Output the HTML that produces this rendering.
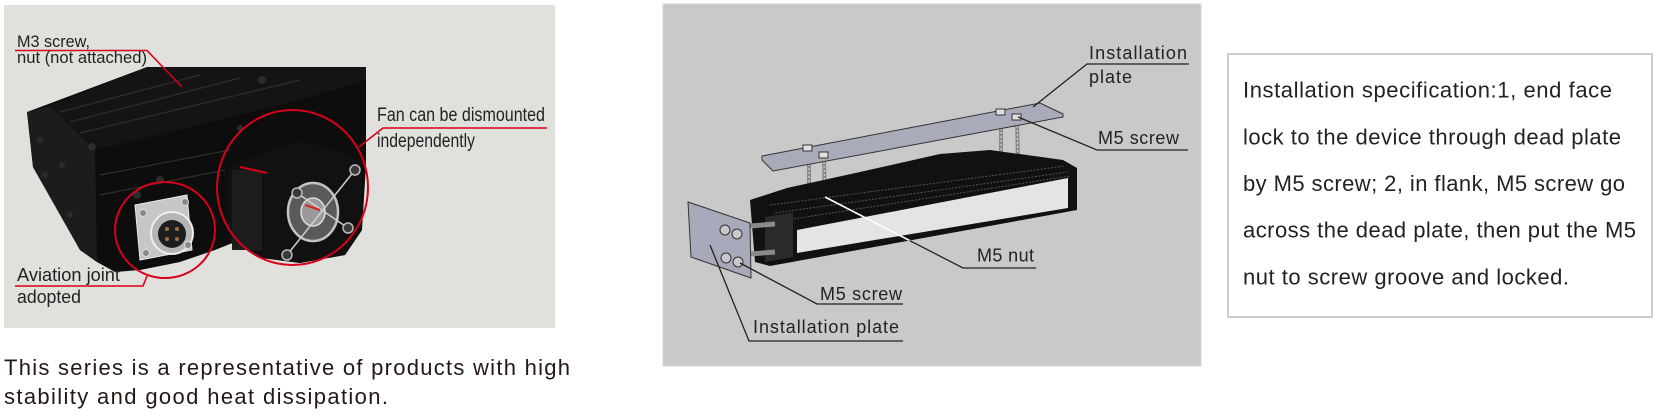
<!DOCTYPE html>
<html><head><meta charset="utf-8"><style>
html,body{margin:0;padding:0;background:#fff;}
svg{display:block;}
text{font-family:"Liberation Sans",Arial,sans-serif;}
</style></head><body>
<svg width="1656" height="419" viewBox="0 0 1656 419" xmlns="http://www.w3.org/2000/svg">
<defs>
<clipPath id="devclip"><polygon points="750,200 787,188 860,172 940,154 990,150 1063,160 1077,168 1077,210 770,266 755,262"/></clipPath>
</defs>
<rect width="1656" height="419" fill="#fff"/>

<!-- LEFT PANEL -->
<rect x="4" y="5" width="551" height="323" fill="#e0e0dc"/>
<!-- device body -->
<polygon points="27,112 147,67 366,67 366,165 362,230 345,255 300,263 262,258 240,240 215,250 180,262 140,270 115,272 97,262 80,250 33,167" fill="#0d0d0d"/>
<!-- end face shading -->
<polygon points="27,112 50,106 95,150 97,262 80,250 33,167" fill="#1c1c1c"/>
<polygon points="50,106 95,150 300,100 366,80 366,67 147,67" fill="#141414"/>
<g stroke="#2e2e2e" stroke-width="1.2">
<line x1="60" y1="112" x2="200" y2="75"/><line x1="70" y1="122" x2="240" y2="78"/><line x1="80" y1="133" x2="300" y2="80"/>
<line x1="100" y1="175" x2="230" y2="150"/><line x1="100" y1="195" x2="225" y2="170"/>
</g>
<g fill="#2c2c2c">
<circle cx="92" cy="147" r="4"/><circle cx="160" cy="180" r="4"/><circle cx="137" cy="195" r="4"/><circle cx="262" cy="80" r="4"/><circle cx="240" cy="128" r="3"/>
<circle cx="40" cy="140" r="3"/><circle cx="45" cy="175" r="3"/><circle cx="62" cy="165" r="3"/><circle cx="70" cy="215" r="3"/>
</g>
<!-- connector -->
<polygon points="135,205 187,195 192,250 140,260" fill="#c6c6c6" stroke="#e8e8e8" stroke-width="1"/>
<circle cx="172" cy="233" r="21" fill="#b5b5b5" stroke="#efefef" stroke-width="2"/>
<circle cx="172" cy="234" r="14" fill="#1e1e1e"/>
<g fill="#a07040"><circle cx="167" cy="229" r="2"/><circle cx="177" cy="229" r="2"/><circle cx="167" cy="239" r="2"/><circle cx="177" cy="239" r="2"/></g>
<g fill="#888" stroke="#ddd"><circle cx="143" cy="213" r="3.5"/><circle cx="185" cy="202" r="3.5"/><circle cx="146" cy="253" r="3.5"/><circle cx="188" cy="245" r="3.5"/></g>
<!-- fan -->
<polygon points="228,165 300,140 362,160 362,230 345,255 300,263 262,258 228,240" fill="#111"/>
<rect x="232" y="170" width="30" height="80" fill="#1d1d1d"/>
<ellipse cx="313" cy="212" rx="25" ry="29" fill="#5a5a5a" stroke="#c4c4c4" stroke-width="2.5"/>
<ellipse cx="313" cy="212" rx="12" ry="14" fill="#9a9a9a" stroke="#ddd" stroke-width="1.5"/>
<g stroke="#cfcfcf" stroke-width="1.5"><line x1="297" y1="193" x2="348" y2="228"/><line x1="355" y1="170" x2="287" y2="255"/></g>
<path d="M305 205 L320 210" stroke="#d22" stroke-width="2"/>
<g fill="#3a3a3a" stroke="#bbb" stroke-width="1.5"><circle cx="355" cy="170" r="5"/><circle cx="297" cy="193" r="5"/><circle cx="348" cy="228" r="5"/><circle cx="287" cy="255" r="5"/></g>
<path d="M240 167 L267 173" stroke="#d8001a" stroke-width="2"/>
<!-- red circles -->
<ellipse cx="165" cy="230" rx="50" ry="48" fill="none" stroke="#d8001a" stroke-width="2"/>
<ellipse cx="292.5" cy="187.5" rx="75.5" ry="77.5" fill="none" stroke="#d8001a" stroke-width="2"/>
<!-- red leaders -->
<g fill="none" stroke="#d8001a" stroke-width="1.6">
<polyline points="15,50.5 147,50.5 182,87"/>
<polyline points="547,128 383,128 359,147"/>
<polyline points="15,286 143,286 147,276"/>
</g>
<g fill="#222">
<text x="17" y="47" font-size="17" textLength="73" lengthAdjust="spacingAndGlyphs">M3 screw,</text>
<text x="17" y="63" font-size="17" textLength="130" lengthAdjust="spacingAndGlyphs">nut (not attached)</text>
<text x="377" y="121" font-size="19" textLength="168" lengthAdjust="spacingAndGlyphs">Fan can be dismounted</text>
<text x="377" y="147" font-size="19" textLength="98" lengthAdjust="spacingAndGlyphs">independently</text>
<text x="17" y="281" font-size="18" textLength="103" lengthAdjust="spacingAndGlyphs">Aviation joint</text>
<text x="17" y="303" font-size="18" textLength="64" lengthAdjust="spacingAndGlyphs">adopted</text>
</g>

<!-- bottom text -->
<g fill="#231815" font-size="22">
<text x="4" y="375" textLength="566">This series is a representative of products with high</text>
<text x="4" y="404" textLength="384">stability and good heat dissipation.</text>
</g>

<!-- MIDDLE PANEL -->
<rect x="663" y="4" width="538" height="362" fill="#c9c9c9" stroke="#d6d6d6" stroke-width="1"/>
<!-- rods under top plate -->
<g stroke="#8a8a8a" stroke-width="4"><line x1="809" y1="160" x2="809" y2="192"/><line x1="824" y1="162" x2="825" y2="197"/><line x1="1001" y1="120" x2="1001" y2="155"/><line x1="1017" y1="122" x2="1018" y2="160"/></g>
<g stroke="#dcdcdc" stroke-width="1" stroke-dasharray="2,2"><line x1="809" y1="160" x2="809" y2="192"/><line x1="824" y1="162" x2="825" y2="197"/><line x1="1001" y1="120" x2="1001" y2="155"/><line x1="1017" y1="122" x2="1018" y2="160"/></g>
<!-- device body -->
<polygon points="750,200 787,188 860,172 940,154 990,150 1063,160 1077,168 1077,210 770,266 755,262" fill="#111"/>
<g stroke="#555" stroke-width="1" stroke-dasharray="2,1.5">
<line x1="770" y1="205" x2="1065" y2="166"/><line x1="775" y1="213" x2="1068" y2="172"/><line x1="780" y1="221" x2="1070" y2="176"/>
</g>
<polygon points="797,230 1068,178 1068,208 797,253" fill="#e4e4e4"/>
<rect x="765" y="215" width="28" height="45" fill="#2a2a2a" transform="skewY(-10) translate(0,137)"/>
<!-- front plate rods -->
<g stroke="#8a8a8a" stroke-width="5"><line x1="750" y1="226" x2="775" y2="224"/><line x1="750" y1="254" x2="775" y2="252"/></g>
<!-- front plate -->
<polygon points="688,202 750,223 751,278 691,257" fill="#a8aabb" stroke="#333" stroke-width="1"/>
<g fill="#c8c8c8" stroke="#333" stroke-width="1"><circle cx="725" cy="230" r="5"/><circle cx="737" cy="234" r="5"/><circle cx="726" cy="258" r="5"/><circle cx="738" cy="262" r="5"/></g>
<!-- top plate -->
<polygon points="762,156 1040,103 1063,114 1063,117 773,171 762,160" fill="#a9abbb" stroke="#333" stroke-width="1"/>
<g fill="#e0e0e0" stroke="#333" stroke-width="1"><rect x="803" y="145" width="9" height="6"/><rect x="819" y="152" width="9" height="6"/><rect x="996" y="109" width="9" height="6"/><rect x="1012" y="114" width="9" height="6"/></g>
<!-- leaders -->
<g fill="none" stroke="#2a1e18" stroke-width="1.3">
<polyline points="1189,64 1087,64 1033,107"/>
<polyline points="1188,150 1097,150 1018,117"/>
<polyline points="1036,268 963,268 825,197"/>
<polyline points="903,304 817,304 740,263"/>
<polyline points="903,341 749,341 710,245"/>
</g>
<g clip-path="url(#devclip)"><line x1="963" y1="268" x2="825" y2="197" stroke="#fff" stroke-width="1.6"/></g>
<g fill="#222" font-size="18">
<text x="1089" y="59" textLength="98">Installation</text>
<text x="1089" y="83" textLength="43">plate</text>
<text x="1098" y="144" textLength="81">M5 screw</text>
<text x="977" y="261.5" textLength="57">M5 nut</text>
<text x="820" y="300" textLength="82">M5 screw</text>
<text x="753" y="333" textLength="146">Installation plate</text>
</g>

<!-- RIGHT BOX -->
<rect x="1228" y="54" width="424" height="263" fill="#fff" stroke="#cccccc" stroke-width="2"/>
<g fill="#222" font-size="22">
<text x="1243" y="97.7" textLength="369">Installation specification:1, end face</text>
<text x="1243" y="144.3" textLength="378">lock to the device through dead plate</text>
<text x="1243" y="191" textLength="382">by M5 screw; 2, in flank, M5 screw go</text>
<text x="1243" y="237.7" textLength="393">across the dead plate, then put the M5</text>
<text x="1243" y="284.3" textLength="326">nut to screw groove and locked.</text>
</g>
</svg>
</body></html>
